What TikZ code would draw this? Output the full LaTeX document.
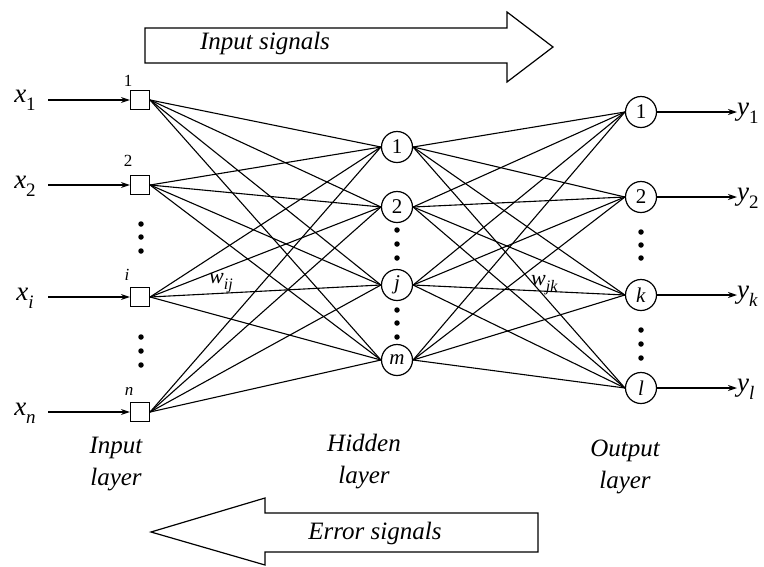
\documentclass[tikz,border=0pt]{standalone}
\usepackage{fontspec}
\setmainfont{Liberation Serif}
\usetikzlibrary{arrows.meta}
\newcommand{\sbx}[2]{\textit{#1}\raisebox{-0.3em}{\fontsize{19}{19}\selectfont #2}}
\newcommand{\sbw}[2]{\textit{#1}\raisebox{-0.3em}{\fontsize{16}{16}\selectfont #2}}
\begin{document}
\begin{tikzpicture}[x=1pt,y=-1pt,
  inp/.style={draw, line width=1.2pt, minimum size=19pt, inner sep=0pt},
  neur/.style={draw, circle, line width=1.2pt, minimum size=31pt, inner sep=0pt, font=\fontsize{21}{21}\selectfont},
  conn/.style={line width=1.1pt},
  sig/.style={line width=1.1pt, -{Stealth[length=9pt,width=6pt]}},
  lbl/.style={font=\itshape\fontsize{25}{32}\selectfont, align=center},
  small/.style={font=\fontsize{17}{17}\selectfont},
  xl/.style={font=\fontsize{27}{27}\selectfont},
  wl/.style={font=\fontsize{22}{22}\selectfont, inner sep=0pt, anchor=west},
  dot/.style={circle, fill, inner sep=0pt, minimum size=5.5pt},
  bigarrow/.style={draw, line width=1.2pt, fill=white}
]
\useasboundingbox (0,0) rectangle (764,566);

% big arrows
\draw[bigarrow] (145,28) -- (507,28) -- (507,12) -- (553,47) -- (507,82) -- (507,63) -- (145,63) -- cycle;
\node[lbl] (insig) at (265,43) {Input signals};
\draw[bigarrow] (538,513) -- (265,513) -- (265,498) -- (151,532) -- (265,565) -- (265,552) -- (538,552) -- cycle;
\node[lbl] (errsig) at (375,533) {Error signals};

% input layer
\node[inp] (i1) at (140,100) {};
\node[inp] (i2) at (140,185) {};
\node[inp] (ii) at (140,297) {};
\node[inp] (in) at (140,412) {};
\node[small] (li1) at (128,81) {1};
\node[small] (li2) at (128,161) {2};
\node[small] (lii) at (127,275) {\textit{i}};
\node[small] (lin) at (129,391) {\textit{n}};

% hidden layer
\node[neur] (h1) at (397,147) {1};
\node[neur] (h2) at (397,207) {2};
\node[neur] (hj) at (397,285) {\textit{j}};
\node[neur] (hm) at (397,360) {\textit{m}};

% output layer
\node[neur] (o1) at (641,112) {1};
\node[neur] (o2) at (641,197) {2};
\node[neur] (ok) at (641,295) {\textit{k}};
\node[neur] (ol) at (641,388) {\textit{l}};

% connections
\foreach \a in {i1,i2,ii,in}
  \foreach \b in {h1,h2,hj,hm}
    \draw[conn] (\a.east) -- (\b.west);
\foreach \a in {h1,h2,hj,hm}
  \foreach \b in {o1,o2,ok,ol}
    \draw[conn] (\a.east) -- (\b.west);

% input signals
\node[xl] (x1) at (25,100) {\sbx{x}{1}};
\node[xl] (x2) at (25,186) {\sbx{x}{2}};
\node[xl] (xi) at (25,298) {\sbx{x}{\textit{i}}};
\node[xl] (xn) at (25,413) {\sbx{x}{\textit{n}}};
\coordinate (cx1) at (48,100);
\coordinate (cx2) at (48,185);
\coordinate (cxi) at (48,297);
\coordinate (cxn) at (48,412);
\draw[sig] (cx1) -- (i1.west);
\draw[sig] (cx2) -- (i2.west);
\draw[sig] (cxi) -- (ii.west);
\draw[sig] (cxn) -- (in.west);

% outputs
\coordinate (cy1) at (737,112);
\coordinate (cy2) at (737,197);
\coordinate (cyk) at (737,295);
\coordinate (cyl) at (737,388);
\draw[sig] (o1.east) -- (cy1);
\draw[sig] (o2.east) -- (cy2);
\draw[sig] (ok.east) -- (cyk);
\draw[sig] (ol.east) -- (cyl);
\node[xl, anchor=west, inner sep=0pt] (y1) at (737,113) {\sbx{y}{1}};
\node[xl, anchor=west, inner sep=0pt] (y2) at (737,198) {\sbx{y}{2}};
\node[xl, anchor=west, inner sep=0pt] (yk) at (737,296) {\sbx{y}{\textit{k}}};
\node[xl, anchor=west, inner sep=0pt] (yl) at (737,389) {\sbx{y}{\textit{l}}};

% weights
\node[wl] (wij) at (209,283) {\sbw{w}{\textit{ij}}};
\node[wl] (wjk) at (531,285) {\sbw{w}{\textit{jk}}};

% dots
\foreach \y in {224,237,251,337,351,365} \node[dot] at (141,\y) {};
\foreach \y in {230,244,258,310,323,337} \node[dot] at (397,\y) {};
\foreach \y in {232,245,258,330,344,358} \node[dot] at (641,\y) {};

% layer labels
\node[lbl] (lin1) at (116,464) {Input\\layer};
\node[lbl] (lhid) at (364,462) {Hidden\\layer};
\node[lbl] (lout) at (625,467) {Output\\layer};
\end{tikzpicture}
\end{document}
